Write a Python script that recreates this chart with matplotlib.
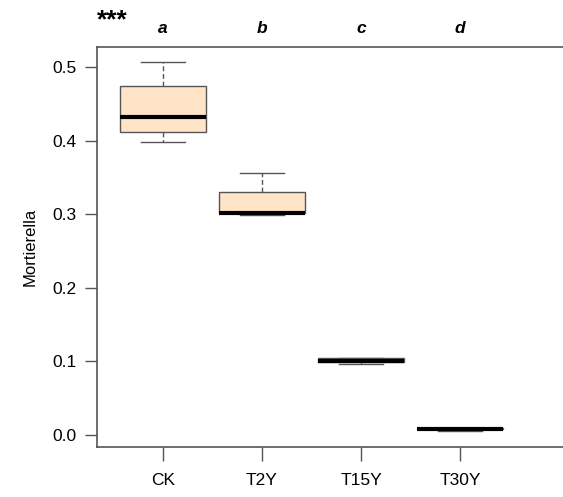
import matplotlib.pyplot as plt
import numpy as np

plt.rcParams['font.family'] = ['Liberation Sans', 'DejaVu Sans']

groups = ["CK", "T2Y", "T15Y", "T30Y"]
letters = ["a", "b", "c", "d"]
# five-number summaries
whislo = [0.398, 0.299, 0.0965, 0.0060]
q1 = [0.412, 0.301, 0.0990, 0.0075]
med = [0.4325, 0.3015, 0.1010, 0.0085]
q3 = [0.4746, 0.3297, 0.1046, 0.0098]
whishi = [0.5064, 0.3564, 0.1046, 0.0098]

stats = []
for i, g in enumerate(groups):
    stats.append(dict(label=g, whislo=whislo[i], q1=q1[i], med=med[i],
                      q3=q3[i], whishi=whishi[i], fliers=[]))

fig = plt.figure(figsize=(5.63, 4.97), dpi=100)
ax = fig.add_axes([97 / 563, 1 - 447 / 497, 1 - 97 / 563, 400 / 497])

edge = "#555555"
ax.bxp(stats, positions=np.arange(1, 5), widths=0.875, patch_artist=True,
       showfliers=False,
       boxprops=dict(facecolor="#FFE4C8", edgecolor=edge, linewidth=1.0),
       medianprops=dict(color="black", linewidth=3.0, solid_capstyle="butt"),
       whiskerprops=dict(color=edge, linestyle=(0, (3.5, 2)), linewidth=1.0),
       capprops=dict(color=edge, linewidth=1.0),
       capwidths=0.44)

ax.set_xlim(0.333, 0.333 + 466 / 99)
ax.set_ylim(-0.0163, 0.527)
ax.set_yticks([0.0, 0.1, 0.2, 0.3, 0.4, 0.5])
ax.set_yticklabels(["0.0", "0.1", "0.2", "0.3", "0.4", "0.5"])
ax.set_xticks(np.arange(1, 5))
ax.set_xticklabels(groups)

for s in ["left", "top", "bottom"]:
    ax.spines[s].set_color(edge)
    ax.spines[s].set_linewidth(1.2)
ax.spines["right"].set_visible(False)
ax.tick_params(axis="y", direction="out", length=9, width=1.0, color=edge,
               pad=6, labelsize=12.5)
ax.tick_params(axis="x", direction="out", length=10, width=1.0, color=edge,
               pad=9, labelsize=12.5)

ax.set_ylabel("Mortierella", fontsize=12, labelpad=10)

for i, l in enumerate(letters):
    ax.text(i + 1, 0.527 + 18 / 736, l, ha="center", va="center",
            fontsize=12.5, fontweight="bold", fontstyle="italic",
            transform=ax.transData, clip_on=False)
fig.text(97 / 563, 1 - 20 / 497, "***", ha="left", va="center",
         fontsize=19, fontweight="bold")

fig.savefig("out.png", dpi=100)
